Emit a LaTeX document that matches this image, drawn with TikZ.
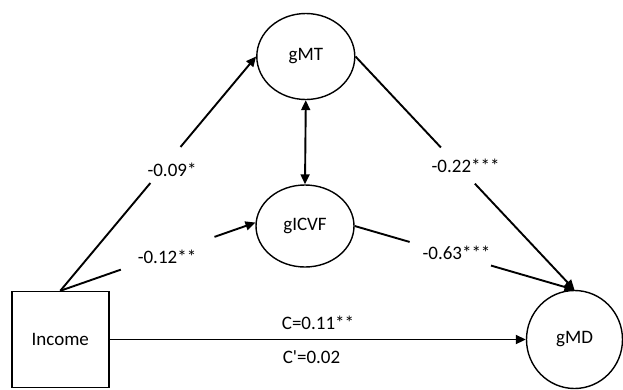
\documentclass[tikz,border=0pt]{standalone}
\usepackage{fontspec}
\setmainfont{Carlito}
\usetikzlibrary{arrows.meta,shapes.geometric,calc}
\begin{document}
\begin{tikzpicture}[x=1pt,y=-1pt,
  every node/.style={font=\fontsize{19}{22}\selectfont},
  latent/.style={draw,ellipse,line width=1.4pt,inner sep=0pt},
  obs/.style={draw,rectangle,line width=1.4pt,inner sep=0pt,minimum width=97pt,minimum height=96pt},
  path/.style={line width=1.9pt},
  tip/.style={Triangle[length=10pt,width=9pt]},
  arr/.style={path,-{Triangle[length=10pt,width=9pt]}},
  lbl/.style={inner sep=0pt}]
\useasboundingbox (0,0) rectangle (623,389);
\node[obs] (inc) at (60.3,339.5) {Income};
\node[latent,minimum width=98pt,minimum height=86pt] (mt) at (305.8,56.5) {gMT};
\node[latent,minimum width=98pt,minimum height=82pt] (icvf) at (305,226) {gICVF};
\node[latent,minimum width=96pt,minimum height=98pt] (md) at (574.5,339.5) {gMD};
% Income -> gMT
\coordinate (a1) at ($(inc.north)!0.46!(mt.west)$);
\coordinate (a2) at ($(inc.north)!0.614!(mt.west)$);
\draw[path] (inc.north) -- (a1);
\draw[arr] (a2) -- (mt.west);
% Income -> gICVF
\coordinate (b1) at ($(inc.north)!0.31!(icvf.176)$);
\coordinate (b2) at ($(inc.north)!0.79!(icvf.176)$);
\draw[path] (inc.north) -- (b1);
\draw[arr] (b2) -- (icvf.176);
% gMT -> gMD
\coordinate (c1) at ($(mt.east)!0.39!(md.north)$);
\coordinate (c2) at ($(mt.east)!0.545!(md.north)$);
\draw[path] (mt.east) -- (c1);
\draw[arr] (c2) -- (md.north);
% gICVF -> gMD
\coordinate (d1) at ($(icvf.east)!0.25!(md.north)$);
\coordinate (d2) at ($(icvf.east)!0.62!(md.north)$);
\draw[path] (icvf.east) -- (d1);
\draw[arr] (d2) -- (md.north);
% covariance
\draw[path,{Triangle[length=10pt,width=9pt]}-{Triangle[length=10pt,width=9pt]}] (mt.south) -- (icvf.north);
% direct
\draw[arr] (inc.east) -- (md.west);
% labels
\node[lbl] (l1) at (172,170) {-0.09*};
\node[lbl] (l2) at (167,257) {-0.12**};
\node[lbl] (l3) at (465.6,166) {-0.22***};
\node[lbl] (l4) at (456.5,252.5) {-0.63***};
\node[lbl] (l5) at (318,323) {C=0.11**};
\node[lbl] (l6) at (311.5,357) {C\textquotesingle=0.02};
\end{tikzpicture}
\end{document}
